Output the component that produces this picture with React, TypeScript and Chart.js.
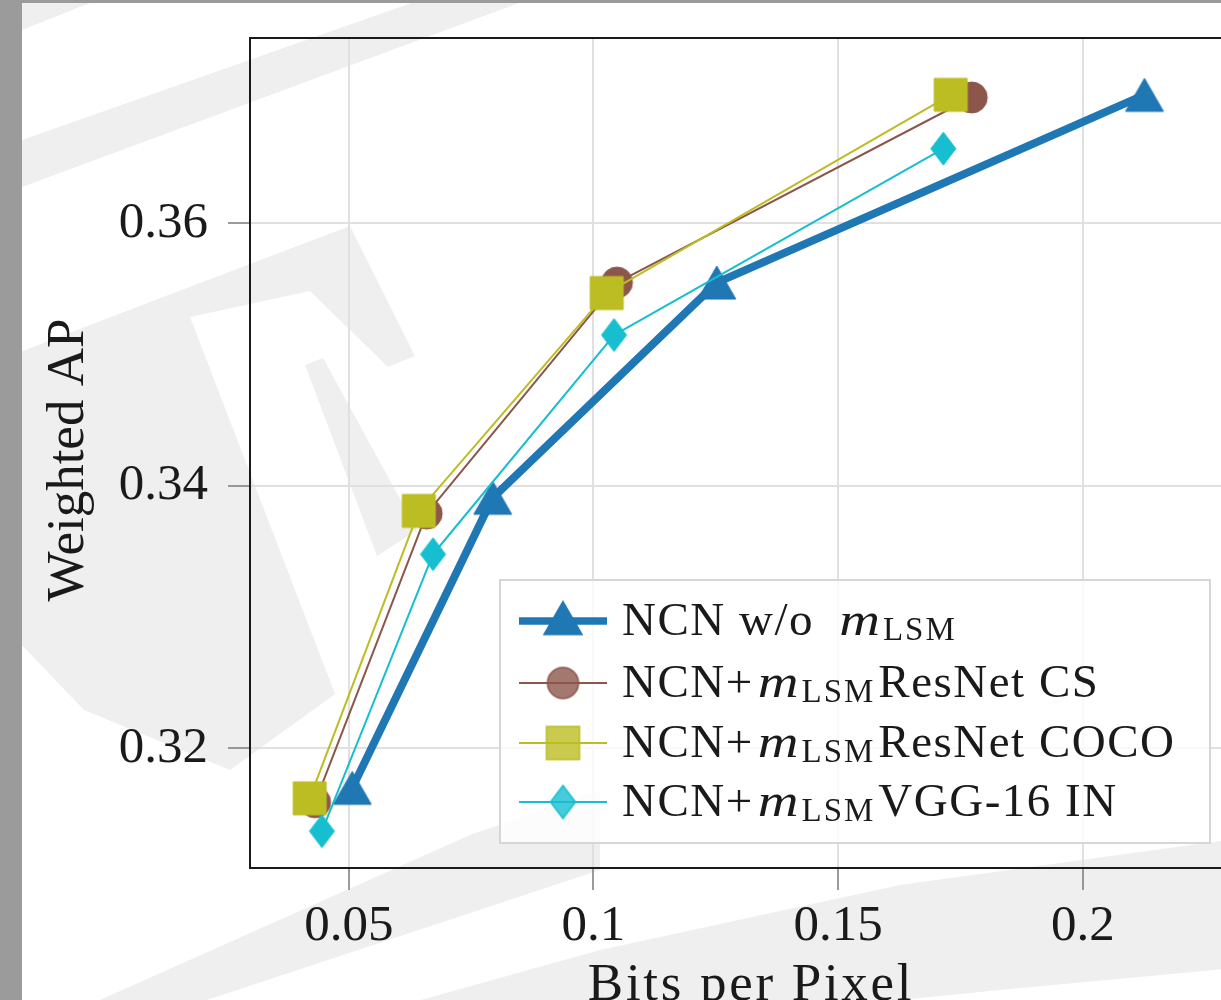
import React, { useEffect, useRef } from "react";
import { Chart, registerables } from "chart.js";

Chart.register(...registerables);

// ---------------- data ----------------
const seriesNames = [
  "NCN w/o mLSM",
  "NCN+mLSM ResNet CS",
  "NCN+mLSM ResNet COCO",
  "NCN+mLSM VGG-16 IN",
];
const legendHead = ["NCN w/o ", "NCN+", "NCN+", "NCN+"];
const legendTail = ["", "ResNet CS", "ResNet COCO", "VGG-16 IN"];
const mathSymbol = "m";
const mathSubscript = "LSM";

const bppNoLsm = [0.0507, 0.0794, 0.1252, 0.2126];
const apNoLsm = [0.3170, 0.3391, 0.3555, 0.3698];

const bppResNetCS = [0.0431, 0.0659, 0.1048, 0.1773];
const apResNetCS = [0.3159, 0.3379, 0.3555, 0.3696];

const bppResNetCOCO = [0.0420, 0.0643, 0.1027, 0.1730];
const apResNetCOCO = [0.3162, 0.3381, 0.3547, 0.3698];

const bppVGG = [0.0445, 0.0672, 0.1042, 0.1715];
const apVGG = [0.3137, 0.3348, 0.3515, 0.3657];

const xTickValues = [0.05, 0.1, 0.15, 0.2];
const yTickValues = [0.32, 0.34, 0.36];
const xAxisTitle = "Bits per Pixel";
const yAxisTitle = "Weighted AP";

const X_MIN = 0.0298;
const X_MAX = 0.2403;
const Y_MIN = 0.310895;
const Y_MAX = 0.374133;

// ---------------- styles ----------------
const BLUE = "#1f77b4";
const BROWN = "#8c564b";
const OLIVE = "#bcbd22";
const CYAN = "#17becf";
const SERIF = "'Liberation Serif', 'Times New Roman', serif";
const TEXT = "#1a1a1a";

// faint background watermark shapes (decoration)
const watermark: number[][][] = [
  [[22, 140], [420, 0], [527, 0], [22, 187]],
  [[22, 3], [90, 3], [22, 30]],
  [[20, 352], [150, 302], [350, 226], [415, 356], [388, 367], [310, 291], [190, 317], [335, 694], [230, 770], [84, 710], [20, 643]],
  [[305, 365], [323, 358], [417, 530], [377, 556]],
  [[100, 1000], [470, 835], [600, 790], [600, 870], [207, 1000]],
  [[421, 1000], [600, 950], [900, 885], [1300, 830], [1300, 962], [1000, 990], [900, 1000]],
];

function makeMarker(kind: string, color: string, fill: string, w: number, h: number, edge: number) {
  const pad = 3;
  const c = document.createElement("canvas");
  c.width = Math.ceil(w + pad * 2);
  c.height = Math.ceil(h + pad * 2);
  const g = c.getContext("2d")!;
  const cx = c.width / 2;
  const cy = c.height / 2;
  g.beginPath();
  if (kind === "tri") {
    g.moveTo(cx, cy - h / 2);
    g.lineTo(cx + w / 2, cy + h / 2);
    g.lineTo(cx - w / 2, cy + h / 2);
    g.closePath();
  } else if (kind === "circle") {
    g.arc(cx, cy, w / 2, 0, Math.PI * 2);
  } else if (kind === "square") {
    g.rect(cx - w / 2, cy - h / 2, w, h);
  } else {
    g.moveTo(cx, cy - h / 2);
    g.lineTo(cx + w / 2, cy);
    g.lineTo(cx, cy + h / 2);
    g.lineTo(cx - w / 2, cy);
    g.closePath();
  }
  g.fillStyle = fill;
  g.fill();
  if (edge > 0) {
    g.strokeStyle = color;
    g.lineWidth = edge;
    g.lineJoin = "miter";
    g.stroke();
  }
  return c;
}

function withAlpha(hex: string, a: number) {
  const r = parseInt(hex.slice(1, 3), 16);
  const g = parseInt(hex.slice(3, 5), 16);
  const b = parseInt(hex.slice(5, 7), 16);
  return `rgba(${r},${g},${b},${a})`;
}

function zeroPadding(s: any) {
  s.paddingTop = 0;
  s.paddingBottom = 0;
  s.paddingLeft = 0;
  s.paddingRight = 0;
}

export default function App() {
  const ref = useRef<HTMLCanvasElement | null>(null);

  useEffect(() => {
    if (!ref.current) return;
    const colors = [BLUE, BROWN, OLIVE, CYAN];
    const kinds = ["tri", "circle", "square", "diamond"];
    const sizes = [
      [38, 33],
      [31, 31],
      [33, 33],
      [25, 33],
    ];
    const lineWidths = [8, 2, 2, 2];
    const plotMarkers = kinds.map((k, i) => makeMarker(k, colors[i], colors[i], sizes[i][0], sizes[i][1], 1));
    const legendMarkers = kinds.map((k, i) =>
      makeMarker(k, colors[i], i === 0 ? colors[i] : withAlpha(colors[i], 0.8), sizes[i][0], sizes[i][1], 1.5)
    );
    const xs = [bppNoLsm, bppResNetCS, bppResNetCOCO, bppVGG];
    const ys = [apNoLsm, apResNetCS, apResNetCOCO, apVGG];

    const datasets = seriesNames.map((name, i) => ({
      label: name,
      data: xs[i].map((x, j) => ({ x, y: ys[i][j] })),
      showLine: true,
      borderColor: colors[i],
      backgroundColor: colors[i],
      borderWidth: lineWidths[i],
      borderJoinStyle: "round" as const,
      borderCapStyle: "round" as const,
      pointStyle: plotMarkers[i] as any,
      pointRadius: 12,
      pointHoverRadius: 12,
      order: 4 - i,
    }));

    const backdrop = {
      id: "backdrop",
      beforeDraw(chart: any) {
        const ctx = chart.ctx as CanvasRenderingContext2D;
        ctx.save();
        ctx.fillStyle = "#ffffff";
        ctx.fillRect(0, 0, chart.width, chart.height);
        ctx.fillStyle = "#efefef";
        for (const poly of watermark) {
          ctx.beginPath();
          poly.forEach(([px, py], k) => (k === 0 ? ctx.moveTo(px, py) : ctx.lineTo(px, py)));
          ctx.closePath();
          ctx.fill();
        }
        ctx.fillStyle = "#9b9b9b";
        ctx.fillRect(0, 0, 22, chart.height);
        ctx.fillRect(0, 0, chart.width, 3);
        ctx.restore();
      },
    };

    const overlay = {
      id: "overlay",
      afterDatasetsDraw(chart: any) {
        const ctx = chart.ctx as CanvasRenderingContext2D;
        const a = chart.chartArea;
        ctx.save();
        ctx.strokeStyle = TEXT;
        ctx.lineWidth = 2;
        ctx.beginPath();
        ctx.moveTo(a.left - 1, a.top);
        ctx.lineTo(a.right, a.top);
        ctx.lineTo(a.right, a.bottom);
        ctx.stroke();
        ctx.restore();
      },
      afterDraw(chart: any) {
        const ctx = chart.ctx as CanvasRenderingContext2D;
        ctx.save();
        // legend box
        const L = 500, T = 580, R = 1210, B = 843;
        ctx.fillStyle = "rgba(255,255,255,0.8)";
        ctx.fillRect(L, T, R - L, B - T);
        ctx.strokeStyle = "#d6d6d6";
        ctx.lineWidth = 2;
        ctx.strokeRect(L, T, R - L, B - T);
        const rows = [621, 683, 743, 802];
        rows.forEach((ry, i) => {
          ctx.strokeStyle = colors[i];
          ctx.lineWidth = i === 0 ? 7.5 : 2;
          ctx.lineCap = "butt";
          ctx.beginPath();
          ctx.moveTo(519, ry);
          ctx.lineTo(607, ry);
          ctx.stroke();
          const m = legendMarkers[i];
          const my = i === 0 ? ry - 3 : ry;
          ctx.drawImage(m, 563 - m.width / 2, my - m.height / 2);
          // text
          let x = 622;
          const base = ry + 14;
          ctx.fillStyle = TEXT;
          ctx.textAlign = "left";
          ctx.textBaseline = "alphabetic";
          (ctx as any).letterSpacing = "1.5px";
          ctx.font = `47px ${SERIF}`;
          ctx.fillText(legendHead[i], x, base);
          x += ctx.measureText(legendHead[i]).width + (i === 0 ? 12 : 4);
          ctx.font = `italic 47px ${SERIF}`;
          (ctx as any).letterSpacing = "0px";
          const mw = ctx.measureText(mathSymbol).width;
          ctx.save();
          ctx.translate(x, base);
          ctx.scale(1.2, 1);
          ctx.fillText(mathSymbol, 0, 0);
          ctx.restore();
          x += mw * 1.2 + 3;
          ctx.font = `33px ${SERIF}`;
          (ctx as any).letterSpacing = "2px";
          ctx.fillText(mathSubscript, x, base + 5);
          x += ctx.measureText(mathSubscript).width + 3;
          if (legendTail[i]) {
            ctx.font = `47px ${SERIF}`;
            (ctx as any).letterSpacing = "1.5px";
            ctx.fillText(legendTail[i], x, base);
          }
        });
        // axis titles
        (ctx as any).letterSpacing = "0px";
        ctx.fillStyle = TEXT;
        ctx.font = `53px ${SERIF}`;
        ctx.textAlign = "center";
        ctx.textBaseline = "alphabetic";
        ctx.save();
        ctx.translate(83, 460);
        ctx.rotate(-Math.PI / 2);
        ctx.fillText(yAxisTitle, 0, 0);
        ctx.restore();
        (ctx as any).letterSpacing = "2.7px";
        ctx.fillText(xAxisTitle, 751, 1000);
        ctx.restore();
      },
    };

    const tickFont = { family: SERIF, size: 51 };
    const chart = new Chart(ref.current, {
      type: "scatter",
      data: { datasets: datasets as any },
      options: {
        animation: false,
        responsive: false,
        devicePixelRatio: 1,
        layout: { padding: { left: 0, right: 20, top: 38, bottom: 0 } },
        plugins: {
          legend: { display: false },
          tooltip: { enabled: false },
        },
        events: [],
        scales: {
          x: {
            type: "linear",
            min: X_MIN,
            max: X_MAX,
            afterBuildTicks: (s: any) => {
              s.ticks = xTickValues.map((v) => ({ value: v }));
            },
            afterFit: (s: any) => {
              s.height = 132;
              zeroPadding(s);
            },
            ticks: {
              font: tickFont,
              color: TEXT,
              padding: 6,
              maxRotation: 0,
              autoSkip: false,
              callback: (v: any) => String(v),
            },
            grid: {
              color: "#e0e0e0",
              lineWidth: 2,
              tickColor: "#7a7a7a",
              tickWidth: 1.5,
              tickLength: 22,
            },
            border: { color: TEXT, width: 2 },
          },
          y: {
            type: "linear",
            min: Y_MIN,
            max: Y_MAX,
            afterBuildTicks: (s: any) => {
              s.ticks = yTickValues.map((v) => ({ value: v }));
            },
            afterFit: (s: any) => {
              s.width = 250;
              zeroPadding(s);
            },
            ticks: {
              font: tickFont,
              color: TEXT,
              padding: 20,
              autoSkip: false,
              callback: (v: any) => String(v),
            },
            grid: {
              color: "#e0e0e0",
              lineWidth: 2,
              tickColor: "#7a7a7a",
              tickWidth: 1.5,
              tickLength: 22,
            },
            border: { color: TEXT, width: 2 },
          },
        },
      },
      plugins: [backdrop, overlay],
    });
    return () => chart.destroy();
  }, []);

  return (
    <div
      style={{
        position: "fixed",
        left: 0,
        top: 0,
        width: 1221,
        height: 1000,
        overflow: "hidden",
        background: "#fff",
      }}
    >
      <canvas ref={ref} width={1300} height={1000} style={{ width: 1300, height: 1000, display: "block" }} />
    </div>
  );
}
